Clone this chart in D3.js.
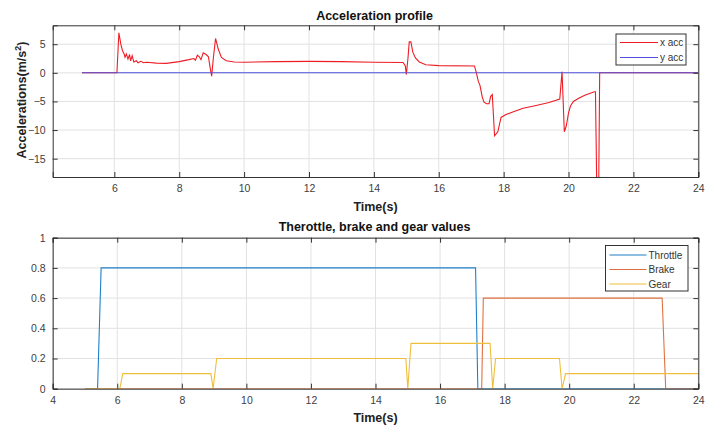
<!DOCTYPE html>
<html><head><meta charset="utf-8">
<script src="https://cdn.jsdelivr.net/npm/d3@7"></script>
<style>body{margin:0;background:#fff} svg{display:block;font-family:"Liberation Sans",Arial,Helvetica,sans-serif}</style>
</head><body><svg id="c" width="705" height="426"></svg>
<script>
// ---- Data ----
const accTime = [5.0, 6.08, 6.14, 6.2, 6.25, 6.3, 6.33, 6.37, 6.42, 6.47, 6.5, 6.55, 6.6, 6.68, 6.73, 6.82, 6.9, 7.0, 7.3, 7.6, 8.0, 8.3, 8.45, 8.5, 8.56, 8.62, 8.67, 8.74, 8.83, 8.9, 8.95, 9.0, 9.05, 9.12, 9.2, 9.3, 9.45, 9.7, 10, 11, 12, 13, 14, 14.9, 14.97, 15.0, 15.05, 15.09, 15.14, 15.2, 15.28, 15.4, 15.6, 16, 17.1, 17.15, 17.22, 17.27, 17.34, 17.39, 17.47, 17.55, 17.6, 17.65, 17.72, 17.82, 17.92, 18.07, 18.3, 18.6, 19.0, 19.4, 19.73, 19.8, 19.87, 19.93, 20.0, 20.06, 20.15, 20.3, 20.5, 20.8, 20.83, 20.87, 20.93, 20.96, 24];
const accX    = [0, 0, 7.0, 5.0, 3.9, 3.3, 2.7, 3.3, 2.4, 3.2, 2.1, 3.0, 1.9, 2.1, 1.75, 2.0, 1.75, 1.85, 1.7, 1.65, 1.95, 2.3, 2.5, 2.2, 3.1, 2.8, 2.3, 3.5, 3.2, 2.8, 1.0, -0.6, 2.5, 6.0, 4.2, 2.7, 2.1, 1.9, 1.85, 1.95, 2.0, 1.95, 1.85, 1.8, 1.2, -0.3, 2.5, 5.4, 5.4, 3.6, 2.6, 1.9, 1.4, 1.25, 1.2, 0.2, -1.5, -2.2, -4.2, -5.1, -5.4, -5.4, -4.1, -3.8, -11.0, -10.3, -7.8, -7.3, -6.8, -6.2, -5.7, -5.2, -4.6, 0.2, -10.3, -9.3, -7.0, -5.8, -5.0, -4.5, -3.9, -3.3, -3.3, -20, -20, 0, 0];
const accYTime = [5, 24];
const accY     = [0, 0];

const throttleTime = [5, 5.39, 5.5, 17.1, 17.17, 24];
const throttle     = [0, 0, 0.8, 0.8, 0, 0];
const brakeTime    = [5, 17.29, 17.34, 22.88, 22.99, 24];
const brake        = [0, 0, 0.6, 0.6, 0, 0];
const gearTime     = [5, 6.08, 6.17, 8.9, 8.97, 9.08, 14.94, 15.0, 15.1, 17.55, 17.63, 17.72, 19.7, 19.78, 19.89, 24];
const gear         = [0, 0, 0.1, 0.1, 0, 0.2, 0.2, 0, 0.3, 0.3, 0, 0.2, 0.2, 0, 0.1, 0.1];

const topXTicks = [6, 8, 10, 12, 14, 16, 18, 20, 22, 24];
const topYTicks = [-15, -10, -5, 0, 5];
const botXTicks = [4, 6, 8, 10, 12, 14, 16, 18, 20, 22, 24];
const botYTicks = [0, 0.2, 0.4, 0.6, 0.8, 1];

const topSeries = [
  {name: "x acc", t: accTime, v: accX, color: "#ee1c24"},
  {name: "y acc", t: accYTime, v: accY, color: "#5050dc"}
];
const botSeries = [
  {name: "Throttle", t: throttleTime, v: throttle, color: "#1f80c8"},
  {name: "Brake", t: brakeTime, v: brake, color: "#e07040"},
  {name: "Gear", t: gearTime, v: gear, color: "#efbe3c"}
];

// ---- Drawing ----
const svg = d3.select("#c");
const AX = "#333333", GRID = "#e2e2e2", TXT = "#404040";

function panel(cfg) {
  const g = svg.append("g");
  const x = d3.scaleLinear().domain(cfg.xDom).range([cfg.left, cfg.right]);
  const y = d3.scaleLinear().domain(cfg.yDom).range([cfg.bottom, cfg.top]);
  const id = "clip" + cfg.key;
  svg.append("clipPath").attr("id", id).append("rect")
    .attr("x", cfg.left).attr("y", cfg.top).attr("width", cfg.right - cfg.left).attr("height", cfg.bottom - cfg.top);
  g.selectAll(".gx").data(cfg.xTicks).join("line")
    .attr("x1", d => x(d)).attr("x2", d => x(d)).attr("y1", cfg.top).attr("y2", cfg.bottom)
    .attr("stroke", GRID).attr("stroke-width", 1);
  g.selectAll(".gy").data(cfg.yTicks).join("line")
    .attr("y1", d => y(d)).attr("y2", d => y(d)).attr("x1", cfg.left).attr("x2", cfg.right)
    .attr("stroke", GRID).attr("stroke-width", 1);
  const lg = g.append("g").attr("clip-path", `url(#${id})`);
  cfg.series.forEach(s => {
    const pts = s.t.map((t, i) => [t, s.v[i]]);
    lg.append("path").datum(pts)
      .attr("d", d3.line().x(d => x(d[0])).y(d => y(d[1])))
      .attr("fill", "none").attr("stroke", s.color).attr("stroke-width", 1.1);
  });
  const tl = 5;
  const axB = d3.axisBottom(x).tickValues(cfg.xTicks).tickSize(-tl).tickPadding(8).tickFormat(d3.format("d"));
  const axT = d3.axisTop(x).tickValues(cfg.xTicks).tickSize(-tl).tickFormat("");
  const axL = d3.axisLeft(y).tickValues(cfg.yTicks).tickSize(-tl).tickPadding(7).tickFormat(cfg.yFmt);
  const axR = d3.axisRight(y).tickValues(cfg.yTicks).tickSize(-tl).tickFormat("");
  [[axB, `translate(0,${cfg.bottom})`], [axT, `translate(0,${cfg.top})`], [axL, `translate(${cfg.left},0)`], [axR, `translate(${cfg.right},0)`]]
    .forEach(([a, tr]) => {
      const ag = g.append("g").attr("transform", tr).call(a);
      ag.select(".domain").attr("stroke", AX);
      ag.selectAll(".tick line").attr("stroke", AX);
      ag.selectAll(".tick text").attr("fill", TXT).style("font-size", "10.5px").style("font-family", '"Liberation Sans",Arial,sans-serif');
    });
  svg.append("text").attr("x", (cfg.left + cfg.right) / 2 - 1).attr("y", cfg.titleY)
    .attr("text-anchor", "middle").attr("font-weight", "bold").attr("font-size", "12.5px").attr("fill", "#111")
    .text(cfg.title);
  svg.append("text").attr("x", (cfg.left + cfg.right) / 2).attr("y", cfg.xlabY)
    .attr("text-anchor", "middle").attr("font-weight", "bold").attr("font-size", "12.5px").attr("fill", "#222")
    .text("Time(s)");
  const L = cfg.legend;
  const lgd = svg.append("g");
  lgd.append("rect").attr("x", L.x).attr("y", L.y).attr("width", L.w).attr("height", L.h)
    .attr("fill", "#fff").attr("stroke", "#333").attr("stroke-width", 1);
  cfg.series.forEach((s, i) => {
    const yy = L.y + L.first + i * L.step;
    lgd.append("line").attr("x1", L.x + 4).attr("x2", L.x + 4 + L.len).attr("y1", yy).attr("y2", yy)
      .attr("stroke", s.color).attr("stroke-width", 1.1);
    lgd.append("text").attr("x", L.x + L.len + 6).attr("y", yy + 3.5)
      .attr("font-size", "10px").attr("fill", "#333").text(s.name);
  });
  return {x, y};
}

panel({key: "a", xDom: [4.1, 24], yDom: [-18.2, 8.3], left: 52.7, right: 698.3, top: 25.3, bottom: 177,
  xTicks: topXTicks, yTicks: topYTicks, yFmt: d3.format("d"), series: topSeries,
  title: "Acceleration profile", titleY: 19.5, xlabY: 211,
  legend: {x: 616, y: 34, w: 70, h: 31, first: 8.5, step: 15, len: 38}});

panel({key: "b", xDom: [4, 24], yDom: [0, 1], left: 52.7, right: 698.3, top: 237.7, bottom: 388.7,
  xTicks: botXTicks, yTicks: botYTicks, yFmt: d => d === 0 || d === 1 ? d3.format("d")(d) : d3.format(".1f")(d), series: botSeries,
  title: "Therottle, brake and gear values", titleY: 230.5, xlabY: 422,
  legend: {x: 605.5, y: 245.5, w: 82.5, h: 45.5, first: 9.5, step: 14.5, len: 37}});

svg.append("text").attr("transform", "translate(26,100) rotate(-90)")
  .attr("text-anchor", "middle").attr("font-weight", "bold").attr("font-size", "12.5px").attr("fill", "#222")
  .call(t => {
    t.append("tspan").text("Accelerations(m/s");
    t.append("tspan").attr("baseline-shift", "super").attr("font-size", "9px").text("2");
    t.append("tspan").text(")");
  });
</script></body></html>
